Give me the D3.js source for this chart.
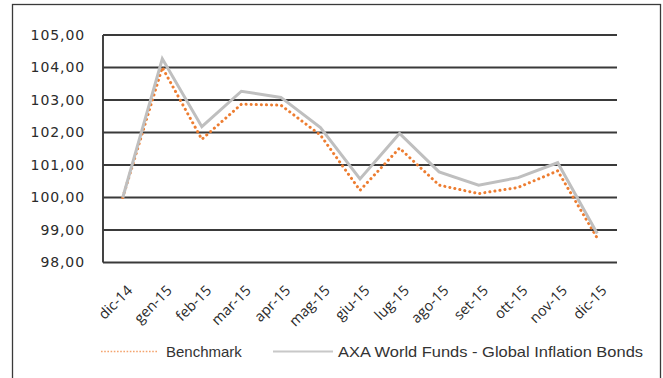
<!DOCTYPE html>
<html>
<head>
<meta charset="utf-8">
<script src="https://cdn.jsdelivr.net/npm/d3@7"></script>
<style>
  html, body { margin: 0; padding: 0; background: #fff; }
  svg { display: block; }
</style>
</head>
<body>
<svg id="chart" width="663" height="378"></svg>
<script>
// Monthly index values (base 100 = dic-14)
const months = ["dic-14", "gen-15", "feb-15", "mar-15", "apr-15", "mag-15", "giu-15",
                "lug-15", "ago-15", "set-15", "ott-15", "nov-15", "dic-15"];
const benchmark = [100.00, 104.00, 101.79, 102.87, 102.84, 101.92, 100.22,
                   101.52, 100.38, 100.12, 100.31, 100.82, 98.75];
const fund = [100.00, 104.27, 102.18, 103.27, 103.08, 102.15, 100.57,
              101.97, 100.79, 100.38, 100.61, 101.07, 98.89];
const yTicks = [98, 99, 100, 101, 102, 103, 104, 105];
const seriesNames = ["Benchmark", "AXA World Funds - Global Inflation Bonds"];

const svg = d3.select("#chart");

// outer frame
svg.append("rect")
  .attr("x", 12.5).attr("y", 4.5)
  .attr("width", 648).attr("height", 400)
  .attr("fill", "none").attr("stroke", "#3a3a3a").attr("stroke-width", 1.3);

const plot = { left: 103, right: 617, top: 35, bottom: 262.5 };

const x = d3.scalePoint()
  .domain(months)
  .range([plot.left, plot.right])
  .padding(0.5);

const y = d3.scaleLinear()
  .domain([98, 105])
  .range([plot.bottom, plot.top]);

const fmt = v => d3.format(".2f")(v).replace(".", ",");

// horizontal gridlines
svg.append("g")
  .selectAll("line")
  .data(yTicks)
  .join("line")
  .attr("x1", plot.left).attr("x2", plot.right)
  .attr("y1", d => y(d)).attr("y2", d => y(d))
  .attr("stroke", "#3a3a3a").attr("stroke-width", 1.9);

// vertical axis line
svg.append("line")
  .attr("x1", plot.left).attr("x2", plot.left)
  .attr("y1", y(105)).attr("y2", y(98))
  .attr("stroke", "#3a3a3a").attr("stroke-width", 1.9);

// y tick labels
const yAxis = d3.axisLeft(y).tickValues(yTicks).tickFormat(fmt).tickSize(0).tickPadding(18);
const gy = svg.append("g").attr("transform", `translate(${plot.left},0)`).call(yAxis);
gy.select(".domain").remove();
gy.selectAll("text")
  .attr("fill", "#2b2b2b")
  .style("font-family", "'DejaVu Sans', sans-serif")
  .style("font-size", "14px")
  .style("letter-spacing", "0.9px");

// x tick labels, rotated
const xAxis = d3.axisBottom(x).tickSize(0).tickPadding(0);
const gx = svg.append("g").attr("transform", `translate(0,${plot.bottom})`).call(xAxis);
gx.select(".domain").remove();
gx.selectAll("text")
  .attr("fill", "#2b2b2b")
  .style("font-family", "'Open Sans', sans-serif")
  .style("font-size", "14.5px")
  .attr("text-anchor", "end")
  .attr("dy", null)
  .attr("y", 0)
  .attr("transform", "translate(10,29) rotate(-45)");

const line = d3.line()
  .x((d, i) => x(months[i]))
  .y(d => y(d));

// benchmark: orange round dots
svg.append("path")
  .datum(benchmark)
  .attr("d", line)
  .attr("fill", "none")
  .attr("stroke", "#ed7d31")
  .attr("stroke-width", 3)
  .attr("stroke-linecap", "round")
  .attr("stroke-dasharray", "0.1 5");

// fund: solid grey
svg.append("path")
  .datum(fund)
  .attr("d", line)
  .attr("fill", "none")
  .attr("stroke", "#bfbfbf")
  .attr("stroke-width", 3)
  .attr("stroke-linejoin", "miter");

// legend
const legend = svg.append("g").style("font-family", "'Liberation Sans', Arial, sans-serif")
  .style("font-size", "15px").attr("fill", "#333");

legend.append("line")
  .attr("x1", 101).attr("x2", 157).attr("y1", 351.5).attr("y2", 351.5)
  .attr("stroke", "#f4a46e").attr("stroke-width", 1.6)
  .attr("stroke-dasharray", "1.6 1.6");
legend.append("text").attr("x", 166).attr("y", 356.5).text(seriesNames[0]);

legend.append("line")
  .attr("x1", 273).attr("x2", 333).attr("y1", 351.5).attr("y2", 351.5)
  .attr("stroke", "#c8c8c8").attr("stroke-width", 2);
legend.append("text").attr("x", 338).attr("y", 356.5)
  .attr("textLength", 305).attr("lengthAdjust", "spacingAndGlyphs")
  .text(seriesNames[1]);
</script>
</body>
</html>
